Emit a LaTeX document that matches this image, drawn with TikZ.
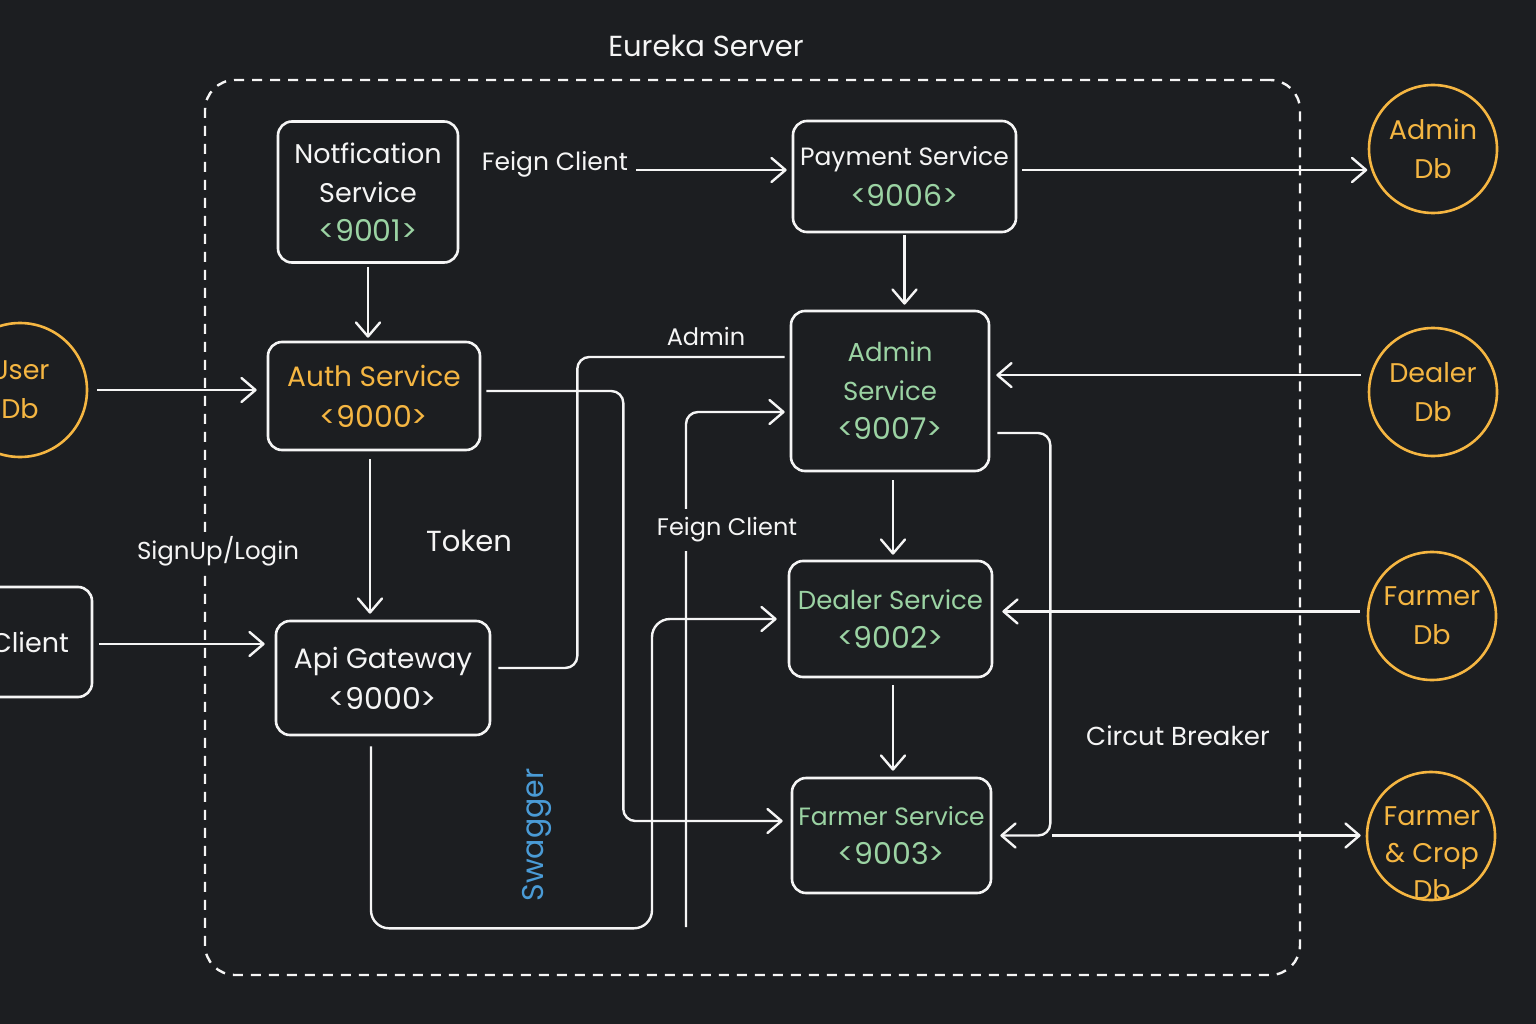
\documentclass[tikz,border=0pt]{standalone}
\usepackage{fontspec}
\setmainfont{Poppins}
\usetikzlibrary{arrows.meta,calc}
\definecolor{bg}{RGB}{28,30,33}
\definecolor{orng}{RGB}{245,182,66}
\definecolor{grn}{RGB}{155,211,163}
\definecolor{blu}{RGB}{74,155,214}
\definecolor{wht}{RGB}{245,245,245}
\newcommand\portnum[1]{{\fontsize{30}{39}\selectfont #1}}
\newcommand\fsz[2]{\fontsize{#1}{#2}\selectfont}
\begin{document}
\begin{tikzpicture}[x=1pt,y=-1pt,
  svc/.style={draw=wht,line width=2.6pt,rounded corners=14pt,align=center,inner sep=0pt,text=wht,font=\fsz{26}{39}},
  db/.style={circle,draw=orng,line width=2.6pt,minimum size=128pt,inner sep=0pt,align=center,text=orng,font=\fsz{27}{39}},
  conn/.style={draw=wht,line width=2.4pt,rounded corners=12pt},
  arr/.style={conn,-{Straight Barb[length=14pt,width=24pt,round]}},
  lbl/.style={text=wht,font=\fsz{25}{30},fill=bg,inner sep=2pt},
]
\fill[bg] (0,0) rectangle (1536,1024);
\useasboundingbox (0,0) rectangle (1536,1024);

% Eureka boundary
\node[draw=wht,line width=2.4pt,dash pattern=on 10pt off 8pt,rounded corners=30pt,minimum width=1095pt,minimum height=895pt,inner sep=0pt] (eurekabox) at (752.5,527.5) {};
\node[text=wht,font=\fsz{29}{32}] (eureka) at (706,46) {Eureka Server};

% services
\node[svc,minimum width=180pt,minimum height=141pt,font=\fsz{27}{39}] (notif) at (368,192) {Notfication\\Service\\\textcolor{grn}{\portnum{<9001>}}};
\node[svc,minimum width=212pt,minimum height=108pt,text=orng,font=\fsz{28}{41}] (auth) at (374,396) {Auth Service\\\portnum{<9000>}};
\node[svc,minimum width=214pt,minimum height=114pt,font=\fsz{28}{41}] (api) at (383,678) {Api Gateway\\\portnum{<9000>}};
\node[svc,minimum width=124pt,minimum height=110pt,font=\fsz{27}{39}] (client) at (30,642) {Client};
\node[svc,minimum width=223pt,minimum height=111pt,font=\fsz{25}{41}] (payment) at (904.5,176.5) {Payment Service\\\textcolor{grn}{\portnum{<9006>}}};
\node[svc,minimum width=198pt,minimum height=160pt,text=grn] (admin) at (890,391) {Admin\\Service\\\portnum{<9007>}};
\node[svc,minimum width=203pt,minimum height=116pt,text=grn] (dealer) at (890.5,619) {Dealer Service\\\portnum{<9002>}};
\node[svc,minimum width=199pt,minimum height=115pt,text=grn,font=\fsz{25}{39}] (farmer) at (891.5,835.5) {Farmer Service\\\portnum{<9003>}};

% databases
\node[db,minimum size=134pt] (userdb) at (20,390) {User\\Db};
\node[db] (admindb) at (1433,149) {Admin\\Db};
\node[db] (dealerdb) at (1433,392) {Dealer\\Db};
\node[db] (farmerdb) at (1432,616) {Farmer\\Db};
\node[db] (fcdb) at (1431,836) {};
\node[text=orng,align=center,font=\fsz{27}{37}] (fcdbtext) at (1432,853) {Farmer\\\& Crop\\Db};

% labels
\node[lbl] (fc1) at (555,164) {Feign Client};
\node[lbl,font=\fsz{24}{30}] (adminlbl) at (706,336) {Admin};
\node[lbl,font=\fsz{29}{32}] (token) at (469,541) {Token};
\node[lbl,font=\fsz{24.5}{30}] (signup) at (218,551) {SignUp/Login};
\node[lbl,font=\fsz{26}{30}] (cb) at (1178,736) {Circut Breaker};
\node[text=blu,font=\fsz{30}{32},rotate=90] (swagger) at (537,835) {Swagger};

% helper coordinates
\coordinate (payin) at ([yshift=6.5pt]payment.west);
\coordinate (payout) at ([yshift=6.5pt]payment.east);
\coordinate (cout) at ([yshift=-2pt]client.east);
\coordinate (aout) at ([xshift=-4pt]auth.south);
\coordinate (a2) at ([yshift=5pt]auth.east);
\coordinate (f2) at ([yshift=14.5pt]farmer.west);
\coordinate (g1) at ([yshift=10pt]api.east);
\coordinate (ad1) at ([yshift=34pt]admin.west);
\coordinate (g2) at ([xshift=-12pt]api.south);
\coordinate (fcb) at (686,927);
\coordinate (ad2) at ([yshift=-21pt]admin.west);
\coordinate (ad3) at ([xshift=3pt]admin.south);
\coordinate (d3) at ([xshift=2.5pt]dealer.south);
\coordinate (ad4) at ([yshift=-42pt]admin.east);

% connectors
\draw[arr,shorten <=3pt,shorten >=3pt] (notif.south) -- (notif.south |- auth.north);
\draw[arr,shorten <=6pt,shorten >=5pt] (payin -| fc1.east) -- (payin);
\draw[arr,shorten <=5pt,shorten >=4pt] (payout) -- (payout -| admindb.199);
\draw[arr,shorten <=2pt,shorten >=5pt] (payment.south) -- (payment.south |- admin.north);
\draw[arr,shorten <=9pt,shorten >=10pt] (userdb.east) -- (userdb.east -| auth.west);
\draw[arr,shorten <=6pt,shorten >=10pt] (cout) -- (cout -| api.west);
\draw[arr,shorten <=8pt,shorten >=6pt] (aout) -- (aout |- api.north);
\draw[arr,shorten <=5pt,shorten >=8pt] (a2) -- ++(142,0) |- (f2);
\draw[conn,shorten <=7pt,shorten >=5pt] (g1) -- ++(86,0) |- (ad1);
\draw[arr,shorten <=10pt,shorten >=11pt,rounded corners=18pt] (g2) -- ++(0,192) -- ++(281,0) |- (dealer.west);
\draw[arr,shorten >=5pt] (fcb) |- (ad2);
\draw[arr,shorten <=8pt,shorten >=5pt] (ad3) -- (ad3 |- dealer.north);
\draw[arr,shorten <=7pt,shorten >=6pt] (d3) -- (d3 |- farmer.north);
\draw[arr,shorten <=9pt,shorten >=6pt] (dealerdb.165) -- (dealerdb.165 -| admin.east);
\draw[arr,shorten <=7pt,shorten >=9pt] (farmerdb.176) -- (farmerdb.176 -| dealer.east);
\draw[arr,shorten <=7pt,shorten >=8pt] (ad4) -- ++(60,0) |- (farmer.east);
\draw[arr,shorten <=60pt,shorten >=5pt] (farmer.east) -- (farmer.east -| fcdb.west);

% label that interrupts the vertical Feign Client line
\node[lbl,inner ysep=9pt,font=\fsz{24}{30}] (fc2) at (727,530) {Feign Client};
\end{tikzpicture}
\end{document}
